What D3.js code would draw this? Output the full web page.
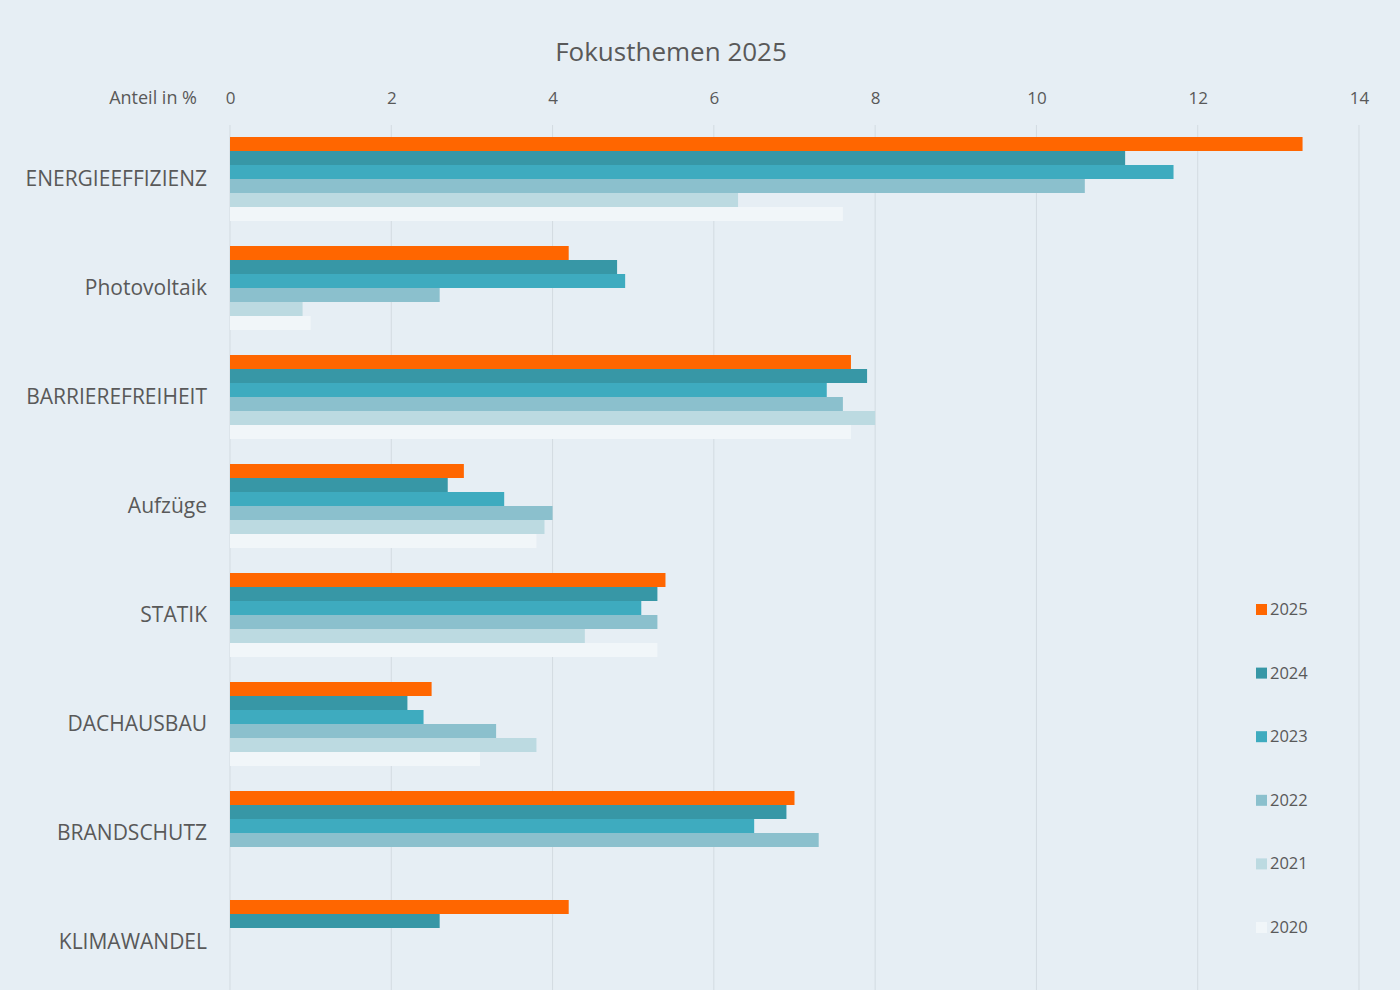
<!DOCTYPE html>
<html>
<head>
<meta charset="utf-8">
<script src="https://cdn.jsdelivr.net/npm/d3@7"></script>
<style>
  body { margin: 0; background: #e6eef4; }
  text { font-family: "Open Sans", "Noto Sans", sans-serif; fill: #595959; }
</style>
</head>
<body>
<div id="chartDiv"></div>
<script>
// data
var categories = ["ENERGIEEFFIZIENZ", "Photovoltaik", "BARRIEREFREIHEIT", "Aufzüge",
                  "STATIK", "DACHAUSBAU", "BRANDSCHUTZ", "KLIMAWANDEL"];
var years = ["2025", "2024", "2023", "2022", "2021", "2020"];
var v2025 = [13.3, 4.2, 7.7, 2.9, 5.4, 2.5, 7.0, 4.2];
var v2024 = [11.1, 4.8, 7.9, 2.7, 5.3, 2.2, 6.9, 2.6];
var v2023 = [11.7, 4.9, 7.4, 3.4, 5.1, 2.4, 6.5, null];
var v2022 = [10.6, 2.6, 7.6, 4.0, 5.3, 3.3, 7.3, null];
var v2021 = [6.3, 0.9, 8.0, 3.9, 4.4, 3.8, null, null];
var v2020 = [7.6, 1.0, 7.7, 3.8, 5.3, 3.1, null, null];
var xTicks = [0, 2, 4, 6, 8, 10, 12, 14];
var colors = ["#ff6600", "#3797a6", "#3eabbf", "#8bc0cd", "#bcdae1", "#f1f6f9"];

var series = [v2025, v2024, v2023, v2022, v2021, v2020];

var width = 1400, height = 990;
var svg = d3.select("#chartDiv")
  .append("svg")
    .attr("width", width)
    .attr("height", height);

svg.append("rect")
  .attr("width", width).attr("height", height)
  .attr("fill", "#e6eef4");

var xScale = d3.scaleLinear()
  .domain([0, 14])
  .range([230, 1359]);

var yScale = d3.scaleBand()
  .domain(categories)
  .range([124.5, 996.5])
  .paddingInner(25 / 109)
  .paddingOuter(12.5 / 109);

var ySub = d3.scaleBand()
  .domain(years)
  .range([0, yScale.bandwidth()]);

// title
svg.append("text")
  .attr("x", 671).attr("y", 61)
  .attr("text-anchor", "middle")
  .style("font-size", "26px")
  .text("Fokusthemen 2025");

// gridlines
svg.append("g")
  .selectAll("line")
  .data(xTicks)
  .enter().append("line")
    .attr("x1", d => xScale(d)).attr("x2", d => xScale(d))
    .attr("y1", 125).attr("y2", height)
    .attr("stroke", "#d3dbe1")
    .attr("stroke-width", 1);

// x axis on top
var xAxis = svg.append("g")
  .attr("transform", "translate(0,104)")
  .call(d3.axisTop(xScale).tickValues(xTicks).tickSize(0).tickPadding(0));
xAxis.select(".domain").remove();
xAxis.selectAll("text")
  .style("font-size", "17px")
  .attr("fill", "#595959");

svg.append("text")
  .attr("x", 197).attr("y", 104)
  .attr("text-anchor", "end")
  .style("font-size", "18px")
  .text("Anteil in %");

// y axis labels
var yAxis = svg.append("g")
  .attr("transform", "translate(207,0)")
  .call(d3.axisLeft(yScale).tickSize(0).tickPadding(0));
yAxis.select(".domain").remove();
yAxis.selectAll("text")
  .style("font-size", "21px")
  .attr("fill", "#595959");

// bars
series.forEach(function(vals, i) {
  svg.append("g")
    .selectAll("rect")
    .data(vals.map((v, j) => ({cat: categories[j], v: v})).filter(d => d.v != null))
    .enter().append("rect")
      .attr("x", xScale(0))
      .attr("y", d => yScale(d.cat) + ySub(years[i]))
      .attr("width", d => xScale(d.v) - xScale(0))
      .attr("height", ySub.bandwidth())
      .attr("fill", colors[i]);
});

// legend
var legend = svg.append("g")
  .selectAll("g")
  .data(years)
  .enter().append("g")
    .attr("transform", (d, i) => "translate(1256," + (609 + i * 63.6) + ")");
legend.append("rect")
  .attr("x", 0).attr("y", -5)
  .attr("width", 11).attr("height", 11)
  .attr("fill", (d, i) => colors[i]);
legend.append("text")
  .attr("x", 14).attr("y", 6)
  .style("font-size", "16.5px")
  .text(d => d);
</script>
</body>
</html>
